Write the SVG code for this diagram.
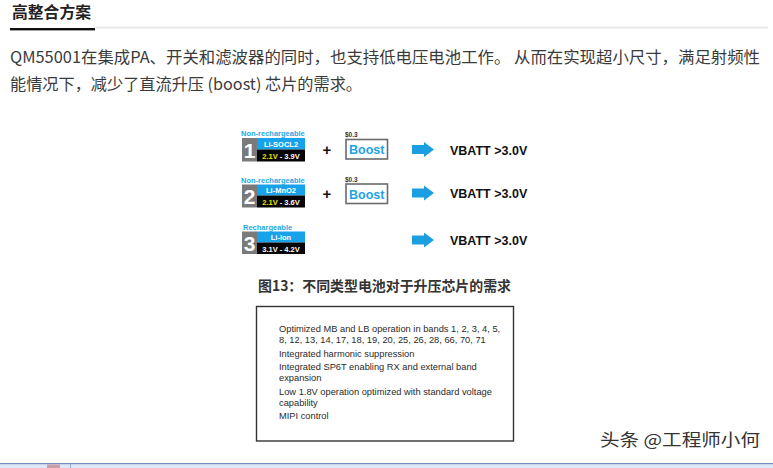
<svg xmlns="http://www.w3.org/2000/svg" width="773" height="468" viewBox="0 0 773 468">
<style>
.cjk{font-family:"Noto Sans CJK SC","Liberation Sans",sans-serif;}
.lat{font-family:"Liberation Sans",Arial,sans-serif;}
.lbl{font-family:"Liberation Sans",Arial,sans-serif;font-size:7.5px;font-weight:bold;fill:#2aa7e2;}
.num{font-family:"Liberation Sans",Arial,sans-serif;font-size:21px;font-weight:bold;fill:#fff;text-anchor:middle;}
.chem{font-family:"Liberation Sans",Arial,sans-serif;font-size:7.5px;font-weight:bold;fill:#fff;text-anchor:middle;}
.volt{font-family:"Liberation Sans",Arial,sans-serif;font-size:7.5px;font-weight:bold;fill:#fff;text-anchor:middle;}
.vbatt{font-family:"Liberation Sans",Arial,sans-serif;font-size:12.5px;font-weight:bold;fill:#111;}
.plus{font-family:"Liberation Sans",Arial,sans-serif;font-size:15px;font-weight:bold;fill:#111;text-anchor:middle;}
.price{font-family:"Liberation Sans",Arial,sans-serif;font-size:6.5px;font-weight:bold;fill:#333;}
.boostbox{fill:#fff;stroke:#6b6b6b;stroke-width:1.6;}
.boost{font-family:"Liberation Sans",Arial,sans-serif;font-size:12.5px;font-weight:bold;fill:#1ea3e6;text-anchor:middle;}
.arrow{fill:#1c9fe0;}
.feat{font-family:"Liberation Sans",Arial,sans-serif;font-size:9.3px;fill:#2a2a2a;}
</style>
<rect x="0" y="0" width="773" height="468" fill="#fff"/>

<!-- heading -->
<g id="heading">
<text class="cjk" x="12" y="18" font-size="15.5" font-weight="bold" fill="#222" textLength="79" lengthAdjust="spacingAndGlyphs">高整合方案</text>
<rect x="95" y="26.5" width="673" height="2" fill="#e9e9e9"/>
<rect x="10" y="28" width="85" height="2.4" fill="#111"/>
</g>

<!-- paragraph -->
<g id="paragraph" class="cjk" font-size="16" fill="#3a3a3a">
<text x="10" y="63" textLength="750" lengthAdjust="spacingAndGlyphs">QM55001在集成PA、开关和滤波器的同时，也支持低电压电池工作。 从而在实现超小尺寸，满足射频性</text>
<text x="10" y="90" textLength="352" lengthAdjust="spacingAndGlyphs">能情况下，减少了直流升压 (boost) 芯片的需求。</text>
</g>

<!-- row 1 -->
<g id="battery1">
<text class="lbl" x="241" y="136">Non-rechargeable</text>
<rect x="242" y="138" width="15" height="23.5" fill="#7a7a7a"/>
<rect x="257" y="138" width="48" height="11.5" fill="#18a2ea"/>
<rect x="257" y="149.5" width="48" height="12" fill="#050505"/>
<text class="num" x="249.5" y="158">1</text>
<text class="chem" x="281" y="147">Li-SOCL2</text>
<text class="volt" x="281" y="158.5"><tspan fill="#e8e800">2.1V</tspan> - 3.9V</text>
</g>
<g id="plus1"><text class="plus" x="327" y="155">+</text></g>
<g id="boost1">
<text class="price" x="345" y="137">$0.3</text>
<rect class="boostbox" x="346" y="139.5" width="41.5" height="19.5"/>
<text class="boost" x="366.7" y="154">Boost</text>
</g>
<g id="result1">
<text class="vbatt" x="450" y="155">VBATT &gt;3.0V</text>
</g>

<!-- row 2 -->
<g id="battery2">
<text class="lbl" x="241" y="182.5">Non-rechargeable</text>
<rect x="242" y="184.5" width="15" height="23" fill="#7a7a7a"/>
<rect x="257" y="184.5" width="48" height="11" fill="#18a2ea"/>
<rect x="257" y="195.5" width="48" height="12" fill="#050505"/>
<text class="num" x="249.5" y="204">2</text>
<text class="chem" x="281" y="193">Li-MnO2</text>
<text class="volt" x="281" y="204.5"><tspan fill="#e8e800">2.1V</tspan> - 3.6V</text>
</g>
<g id="plus2"><text class="plus" x="327" y="199">+</text></g>
<g id="boost2">
<text class="price" x="345" y="182">$0.3</text>
<rect class="boostbox" x="346" y="184" width="41.5" height="19.5"/>
<text class="boost" x="366.7" y="198.5">Boost</text>
</g>
<g id="result2">
<text class="vbatt" x="450" y="198">VBATT &gt;3.0V</text>
</g>

<!-- row 3 -->
<g id="battery3">
<text class="lbl" x="243" y="229.5">Rechargeable</text>
<rect x="242" y="231.5" width="15" height="22.5" fill="#7a7a7a"/>
<rect x="257" y="231.5" width="48" height="11" fill="#18a2ea"/>
<rect x="257" y="242.5" width="48" height="11.5" fill="#050505"/>
<text class="num" x="249.5" y="251">3</text>
<text class="chem" x="281" y="240">Li-ion</text>
<text class="volt" x="281" y="251.5">3.1V - 4.2V</text>
</g>
<g id="result3">
<text class="vbatt" x="450" y="245">VBATT &gt;3.0V</text>
</g>

<!-- arrows -->
<g id="connectors">
<path class="arrow" d="M412 145 H424 V142 L434 149.5 L424 157 V154 H412 Z"/>
<path class="arrow" d="M412 188.5 H424 V185.5 L434 193 L424 200.5 V197.5 H412 Z"/>
<path class="arrow" d="M412 235.5 H424 V232.5 L434 240 L424 247.5 V244.5 H412 Z"/>
</g>

<!-- caption -->
<g id="caption">
<text class="cjk" x="258" y="291" font-size="14" font-weight="bold" fill="#333" textLength="253" lengthAdjust="spacingAndGlyphs">图13：不同类型电池对于升压芯片的需求</text>
</g>

<!-- features box -->
<g id="features">
<rect x="256.5" y="306.5" width="257" height="134.5" fill="#fff" stroke="#333" stroke-width="1.4"/>
<text class="feat" x="279" y="332">Optimized MB and LB operation in bands 1, 2, 3, 4, 5,</text>
<text class="feat" x="279" y="343">8, 12, 13, 14, 17, 18, 19, 20, 25, 26, 28, 66, 70, 71</text>
<text class="feat" x="279" y="357">Integrated harmonic suppression</text>
<text class="feat" x="279" y="370">Integrated SP6T enabling RX and external band</text>
<text class="feat" x="279" y="381">expansion</text>
<text class="feat" x="279" y="395">Low 1.8V operation optimized with standard voltage</text>
<text class="feat" x="279" y="406">capability</text>
<text class="feat" x="279" y="419">MIPI control</text>
</g>

<!-- watermark -->
<g id="watermark">
<text class="cjk" x="600" y="446" font-size="17" fill="#333" textLength="160" lengthAdjust="spacingAndGlyphs">头条 @工程师小何</text>
</g>

<!-- bottom bar -->
<g id="bottombar">
<rect x="0" y="464" width="773" height="4" fill="#dde7f5"/>
<rect x="0" y="463" width="773" height="1.2" fill="#6f8fbf"/>
<rect x="47" y="464.5" width="13" height="3.5" fill="#c9a0a8"/>
<rect x="70" y="464" width="1" height="4" fill="#9aaccc"/>
</g>
</svg>
